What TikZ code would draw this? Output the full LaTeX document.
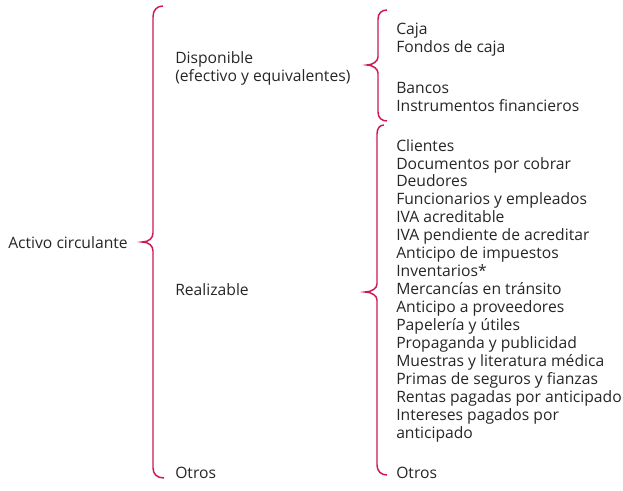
\documentclass[tikz,border=0pt]{standalone}
\usepackage{fontspec}
\setmainfont{Open Sans}
\definecolor{llavecolor}{RGB}{206,22,88}
\tikzset{
	llave/.style={draw=llavecolor, line width=1.1pt},
	texto/.style={anchor=west, inner sep=0pt, align=left, font=\fontsize{11.75}{13.45}\selectfont, text=black!85}
}
\begin{document}
\begin{tikzpicture}[x=0.75pt, y=-0.75pt]
	\useasboundingbox (0,0) rectangle (623,491);
	% llaves
	\draw[llave] (163,6) .. controls (157,6) and (153,10) .. (153,17) -- (153,233) .. controls (153,238) and (149,242) .. (142,242) .. controls (149,242) and (153,246) .. (153,251) -- (153,468) .. controls (153,474) and (157,478) .. (164,478);
	\draw[llave] (387,10) .. controls (382,10) and (378,13) .. (378,19) -- (378,57) .. controls (378,61) and (373,65) .. (367,65) .. controls (373,65) and (378,69) .. (378,73) -- (378,112) .. controls (378,118) and (382,121) .. (387,121);
	\draw[llave] (384,125) .. controls (380,125) and (377,128) .. (377,134) -- (377,284) .. controls (377,288) and (372,292) .. (365,292) .. controls (372,292) and (377,296) .. (377,300) -- (377,465) .. controls (377,471) and (381,475) .. (387,475);
	% textos
	\node[texto] (activo) at (8,243) {Activo circulante};
	\node[texto] (disponible) at (175,68.5) {Disponible\\(efectivo y equivalentes)};
	\node[texto] (realizable) at (175,290) {Realizable};
	\node[texto] (otrosA) at (175,473) {Otros};
	\node[texto] (caja) at (396,39.5) {Caja\\Fondos de caja};
	\node[texto] (bancos) at (396,97) {Bancos\\Instrumentos financieros};
	\node[texto] (clientes) at (396,290.5) {Clientes\\Documentos por cobrar\\Deudores\\Funcionarios y empleados\\IVA acreditable\\IVA pendiente de acreditar\\Anticipo de impuestos\\Inventarios*\\Mercancías en tránsito\\Anticipo a proveedores\\Papelería y útiles\\Propaganda y publicidad\\Muestras y literatura médica\\Primas de seguros y fianzas\\Rentas pagadas por anticipado\\Intereses pagados por\\anticipado};
	\node[texto] (otrosB) at (396,473) {Otros};
\end{tikzpicture}
\end{document}
